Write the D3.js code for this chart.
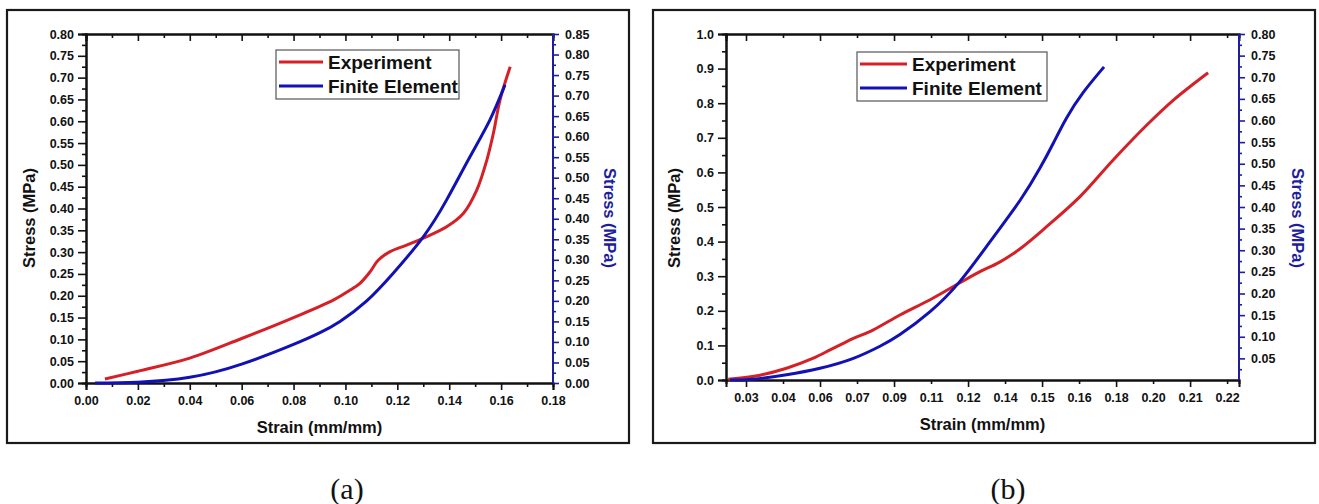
<!DOCTYPE html>
<html>
<head>
<meta charset="utf-8">
<script src="https://cdn.jsdelivr.net/npm/d3@7"></script>
<style>
  body { margin: 0; background: #fff; }
  svg text { font-family: "Liberation Sans", Arial, sans-serif; font-weight: bold; }
</style>
</head>
<body>
<svg id="chart" width="1319" height="504"></svg>
<script>
// ---- data ----
// panel (a)
let expStrainA = [0.0073, 0.020, 0.040, 0.060, 0.080, 0.0953, 0.1018, 0.1056, 0.1095, 0.1127, 0.1172, 0.1236, 0.130, 0.139, 0.1455, 0.1506, 0.1545, 0.157, 0.1596, 0.1635];
let expStressA = [0.009, 0.027, 0.057, 0.102, 0.150, 0.190, 0.213, 0.2285, 0.255, 0.282, 0.301, 0.316, 0.332, 0.358, 0.389, 0.442, 0.511, 0.572, 0.649, 0.725];
let feStrainA = [0.0035, 0.020, 0.040, 0.060, 0.080, 0.090, 0.0979, 0.1082, 0.1185, 0.130, 0.139, 0.148, 0.1557, 0.1615];
let feStressA = [0.000, 0.002, 0.014, 0.046, 0.094, 0.122, 0.150, 0.200, 0.268, 0.356, 0.446, 0.551, 0.641, 0.726]; // right axis

// panel (b)
let expStrainB = [0.023, 0.0355, 0.046, 0.0566, 0.0632, 0.0684, 0.0724, 0.0803, 0.0908, 0.1027, 0.1145, 0.1224, 0.130, 0.138, 0.1487, 0.1619, 0.175, 0.1883, 0.1988, 0.2125];
let expStressB = [0.002, 0.014, 0.034, 0.063, 0.087, 0.106, 0.120, 0.145, 0.188, 0.232, 0.281, 0.313, 0.340, 0.378, 0.443, 0.530, 0.636, 0.737, 0.809, 0.888];
let feStrainB = [0.0237, 0.0329, 0.046, 0.0592, 0.0724, 0.0829, 0.0908, 0.1027, 0.1145, 0.1264, 0.1382, 0.1461, 0.1514, 0.1566, 0.1632, 0.1714];
let feStressB = [0.000, 0.002, 0.012, 0.027, 0.050, 0.078, 0.105, 0.158, 0.228, 0.320, 0.415, 0.490, 0.548, 0.606, 0.665, 0.724]; // right axis

// tick labels
let xTicksA = [0, 0.02, 0.04, 0.06, 0.08, 0.10, 0.12, 0.14, 0.16, 0.18];
let yTicksA = [0, 0.05, 0.10, 0.15, 0.20, 0.25, 0.30, 0.35, 0.40, 0.45, 0.50, 0.55, 0.60, 0.65, 0.70, 0.75, 0.80];
let y2TicksA = [0, 0.05, 0.10, 0.15, 0.20, 0.25, 0.30, 0.35, 0.40, 0.45, 0.50, 0.55, 0.60, 0.65, 0.70, 0.75, 0.80, 0.85];
let xLabelsB = ["0.03", "0.04", "0.06", "0.07", "0.09", "0.11", "0.12", "0.14", "0.15", "0.16", "0.18", "0.20", "0.21", "0.22"];
let yTicksB = [0, 0.1, 0.2, 0.3, 0.4, 0.5, 0.6, 0.7, 0.8, 0.9, 1.0];
let y2TicksB = [0.05, 0.10, 0.15, 0.20, 0.25, 0.30, 0.35, 0.40, 0.45, 0.50, 0.55, 0.60, 0.65, 0.70, 0.75, 0.80];

let seriesNames = ["Experiment", "Finite Element"];

const RED = "#d42026", BLUE = "#1212b4", AXBLUE = "#1d1d9e";

let svg = d3.select("#chart");

function zip(xs, ys) { return xs.map((x, i) => [x, ys[i]]); }

// minor ticks halfway between majors
function halves(ticks) {
  let out = [];
  for (let i = 0; i < ticks.length - 1; i++) out.push((ticks[i] + ticks[i + 1]) / 2);
  return out;
}

function drawPanel(p) {
  let g = svg.append("g");

  g.append("rect")
    .attr("x", p.frame[0]).attr("y", p.frame[1])
    .attr("width", p.frame[2]).attr("height", p.frame[3])
    .attr("fill", "none").attr("stroke", "#1a1a1a").attr("stroke-width", 2.2);

  let x = d3.scaleLinear().domain(p.xDomain).range([p.l, p.r]);
  let y = d3.scaleLinear().domain(p.yDomain).range([p.b, p.t]);
  let y2 = d3.scaleLinear().domain(p.y2Domain).range([p.b, p.t]);

  function styleAxis(sel, color) {
    sel.select(".domain").attr("stroke", color).attr("stroke-width", 2);
    sel.selectAll(".tick line").attr("stroke", color).attr("stroke-width", 1.6);
    sel.selectAll(".tick text").attr("fill", "#111").style("font-size", "12.5px");
  }

  // bottom axis
  let xMinor = g.append("g").attr("transform", `translate(0,${p.b})`)
    .call(d3.axisBottom(x).tickValues(p.xMinor).tickSize(4).tickFormat(""));
  styleAxis(xMinor, "#111");
  let xAx = g.append("g").attr("transform", `translate(0,${p.b})`)
    .call(d3.axisBottom(x).tickValues(p.xTicks).tickSize(7).tickPadding(6).tickFormat(p.xFormat));
  styleAxis(xAx, "#111");

  // top axis (mirror, inward ticks)
  let tMinor = g.append("g").attr("transform", `translate(0,${p.t})`)
    .call(d3.axisBottom(x).tickValues(p.xMinor).tickSize(4).tickFormat(""));
  styleAxis(tMinor, "#111");
  let tAx = g.append("g").attr("transform", `translate(0,${p.t})`)
    .call(d3.axisBottom(x).tickValues(p.xTicks).tickSize(7).tickFormat(""));
  styleAxis(tAx, "#111");

  if (p.xAlt) {
    // every second labelled tick is short
    xAx.selectAll(".tick line").attr("y2", (d, i) => i % 2 ? 4 : 7);
    tAx.selectAll(".tick line").attr("y2", (d, i) => i % 2 ? 4 : 7);
  }

  // left axis
  let yMinor = g.append("g").attr("transform", `translate(${p.l},0)`)
    .call(d3.axisLeft(y).tickValues(halves(p.yTicks)).tickSize(4).tickFormat(""));
  styleAxis(yMinor, "#111");
  let yAx = g.append("g").attr("transform", `translate(${p.l},0)`)
    .call(d3.axisLeft(y).tickValues(p.yTicks).tickSize(8).tickPadding(4).tickFormat(d3.format(p.yFmt)));
  styleAxis(yAx, "#111");

  // right axis (blue)
  let y2Minor = g.append("g").attr("transform", `translate(${p.r},0)`)
    .call(d3.axisRight(y2).tickValues(p.y2Minor).tickSize(3).tickFormat(""));
  styleAxis(y2Minor, AXBLUE);
  let y2Ax = g.append("g").attr("transform", `translate(${p.r},0)`)
    .call(d3.axisRight(y2).tickValues(p.y2Ticks).tickSize(6).tickPadding(6).tickFormat(d3.format(".2f")));
  styleAxis(y2Ax, AXBLUE);
  y2Ax.select(".domain").attr("d", `M0,${p.t}V${p.b}`);
  y2Minor.select(".domain").remove();

  // curves
  let expLine = d3.line().curve(d3.curveCatmullRom.alpha(0.5))
    .x(d => x(d[0])).y(d => y(d[1]));
  let feLine = d3.line().curve(d3.curveNatural)
    .x(d => x(d[0])).y(d => y2(d[1]));
  g.append("path").datum(p.exp)
    .attr("d", expLine).attr("fill", "none").attr("stroke", RED).attr("stroke-width", 3);
  g.append("path").datum(p.fe)
    .attr("d", feLine).attr("fill", "none").attr("stroke", BLUE).attr("stroke-width", 3);

  // axis titles
  g.append("text").attr("x", (p.l + p.r) / 2).attr("y", p.b + 50)
    .attr("text-anchor", "middle").style("font-size", "16.5px").attr("fill", "#111")
    .text("Strain (mm/mm)");
  g.append("text").attr("transform", `translate(${p.yTitleX},218) rotate(-90)`)
    .attr("text-anchor", "middle").attr("dy", "0.35em").style("font-size", "16.5px").attr("fill", "#111")
    .text("Stress (MPa)");
  g.append("text").attr("transform", `translate(${p.y2TitleX},218) rotate(90)`)
    .attr("text-anchor", "middle").attr("dy", "0.35em").style("font-size", "16.5px").attr("fill", AXBLUE)
    .text("Stress (MPa)");

  // legend
  let lg = g.append("g").attr("transform", `translate(${p.legend[0]},${p.legend[1]})`);
  lg.append("rect").attr("width", p.legend[2]).attr("height", p.legend[3])
    .attr("fill", "#fff").attr("stroke", "#555").attr("stroke-width", 1.2);
  [RED, BLUE].forEach((c, i) => {
    let yy = 12 + i * 24;
    lg.append("line").attr("x1", 3).attr("x2", p.legendLine).attr("y1", yy).attr("y2", yy)
      .attr("stroke", c).attr("stroke-width", 3);
    lg.append("text").attr("x", p.legendLine + 5).attr("y", yy + 7)
      .style("font-size", "19px").attr("fill", "#111").text(seriesNames[i]);
  });

  // caption
  g.append("text").attr("x", p.caption).attr("y", 499).attr("text-anchor", "middle")
    .style("font-family", "'Liberation Serif', 'Times New Roman', serif")
    .style("font-weight", "normal").style("font-size", "30px").attr("fill", "#111")
    .text(p.label);
}

// panel (a)
drawPanel({
  frame: [7, 10, 622, 433],
  l: 86, r: 553, t: 34, b: 383,
  xDomain: [0, 0.18], yDomain: [0, 0.8], y2Domain: [0, 0.85],
  xTicks: xTicksA, xMinor: halves(xTicksA), xFormat: d3.format(".2f"), xAlt: false,
  yTicks: yTicksA, yFmt: ".2f",
  y2Ticks: y2TicksA, y2Minor: halves(y2TicksA),
  exp: zip(expStrainA, expStressA), fe: zip(feStrainA, feStressA),
  yTitleX: 29, y2TitleX: 610,
  legend: [276, 50, 183, 49], legendLine: 47,
  caption: 347, label: "(a)"
});

// panel (b): tick labels are evenly spaced between first and last value
let bFirst = +xLabelsB[0], bLast = +xLabelsB[xLabelsB.length - 1];
let xTicksB = xLabelsB.map((s, i) => bFirst + i * (bLast - bFirst) / (xLabelsB.length - 1));
drawPanel({
  frame: [653, 10, 662, 433],
  l: 726, r: 1239, t: 34, b: 380,
  xDomain: [0.0221, 0.2247], yDomain: [0, 1.0], y2Domain: [0, 0.8],
  xTicks: xTicksB, xMinor: [], xFormat: (d, i) => xLabelsB[i], xAlt: true,
  yTicks: yTicksB, yFmt: ".1f",
  y2Ticks: y2TicksB, y2Minor: [0.025].concat(halves(y2TicksB)),
  exp: zip(expStrainB, expStressB), fe: zip(feStrainB, feStressB),
  yTitleX: 674, y2TitleX: 1298,
  legend: [857, 52, 190, 49], legendLine: 50,
  caption: 1008, label: "(b)"
});
</script>
</body>
</html>
